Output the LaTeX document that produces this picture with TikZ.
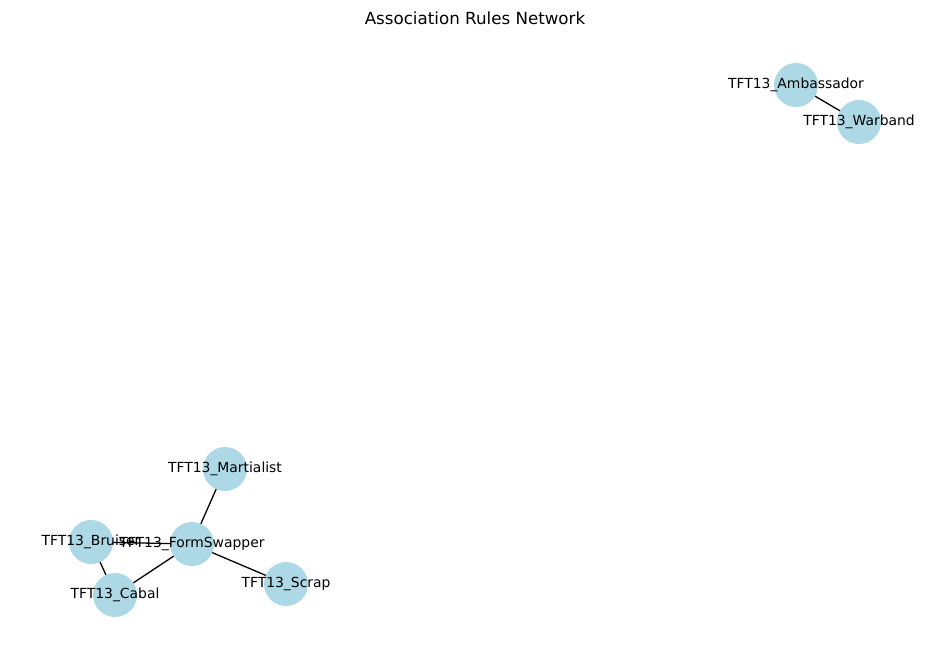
\documentclass[tikz,border=0pt]{standalone}
\usepackage{fontspec}
\setmainfont{DejaVu Sans}
\begin{document}
\begin{tikzpicture}[x=1pt,y=-1pt,
  nd/.style={circle,fill={rgb,255:red,173;green,216;blue,230},minimum size=44pt,inner sep=0pt},
  lb/.style={font=\fontsize{13.9}{14}\selectfont},
  ed/.style={draw=black,line width=1.3pt}]
\useasboundingbox (0,0) rectangle (950,658);
\node[font=\fontsize{16.7}{18}\selectfont] (title) at (475,18) {Association Rules Network};
\foreach \n/\x/\y in {Ambassador/796/85,Warband/859/122,Martialist/225/469,Bruiser/91/542,FormSwapper/192/544,Cabal/115/595,Scrap/286/584}
  \coordinate (c\n) at (\x,\y);
\draw[ed] (cAmbassador)--(cWarband);
\draw[ed] (cMartialist)--(cFormSwapper);
\draw[ed] (cBruiser)--(cFormSwapper);
\draw[ed] (cBruiser)--(cCabal);
\draw[ed] (cCabal)--(cFormSwapper);
\draw[ed] (cFormSwapper)--(cScrap);
\foreach \n in {Ambassador,Warband,Martialist,Bruiser,FormSwapper,Cabal,Scrap}
  \node[nd] (\n) at (c\n) {};
\foreach \n in {Ambassador,Warband,Martialist,Bruiser,FormSwapper,Cabal,Scrap}
  \node[lb] (l\n) at (c\n) {TFT13\_\n};
\end{tikzpicture}
\end{document}
